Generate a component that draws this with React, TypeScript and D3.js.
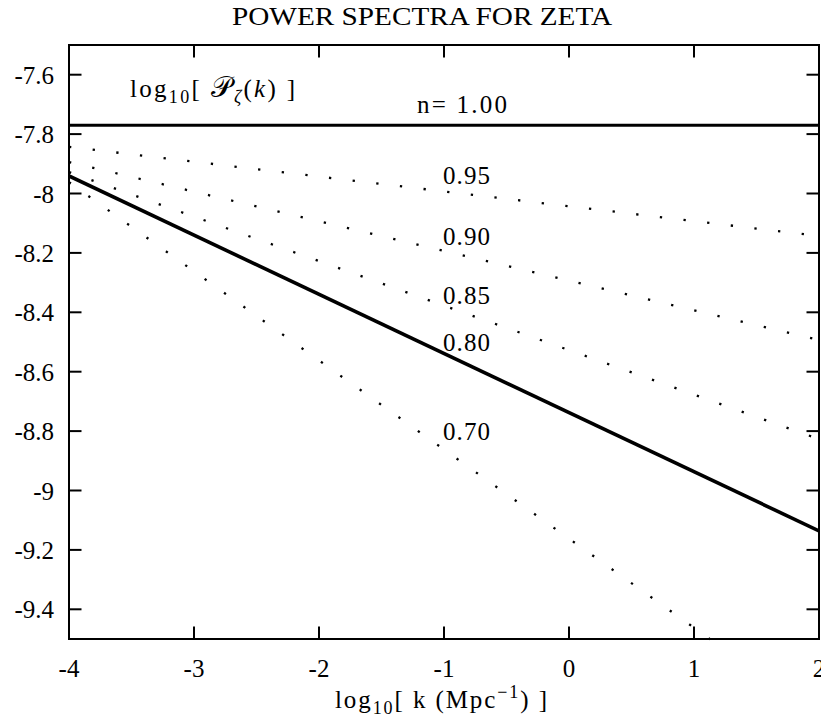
import React from 'react';
import * as d3 from 'd3';

// spectral index of each curve and log10 P at the two ends of the k range
const spectralIndex = [1.0, 0.95, 0.9, 0.85, 0.8, 0.7];
const logKEnds = [-4, 2];
const logPAtKMin = [-7.77, -7.843, -7.894, -7.928, -7.941, -7.962];
const logPAtKMax = [-7.77, -8.143, -8.493, -8.827, -9.136, -9.762];
const solidCurves = [1.0, 0.8];

const curveLabels = ['n= 1.00', '0.95', '0.90', '0.85', '0.80', '0.70'];
const labelLogK = [-1.216, -1.008, -1.008, -1.008, -1.008, -1.008];
const labelLogP = [-7.729, -7.968, -8.173, -8.372, -8.53, -8.83];

const xTicks = [-4, -3, -2, -1, 0, 1, 2];
const xTickLabels = ['-4', '-3', '-2', '-1', '0', '1', '2'];
const yTicks = [-7.6, -7.8, -8, -8.2, -8.4, -8.6, -8.8, -9, -9.2, -9.4];
const yTickLabels = ['-7.6', '-7.8', '-8', '-8.2', '-8.4', '-8.6', '-8.8', '-9', '-9.2', '-9.4'];

const W = 821;
const H = 714;
const left = 69, right = 819, top = 45, bottom = 639;
const font = '"Liberation Serif", "DejaVu Serif", serif';

export default function App() {
  const x = d3.scaleLinear().domain([-4, 2]).range([left, right]);
  const y = d3.scaleLinear().domain([-9.5, -7.5]).range([bottom, top]);
  const line = d3
    .line<[number, number]>()
    .x(d => x(d[0]))
    .y(d => y(d[1]));

  const tick = 12.5;

  return (
    <div>
      <style>{'body{margin:0}'}</style>
      <svg width={W} height={H} style={{ display: 'block', background: '#fff' }} fontFamily={font}>
        <defs>
          <clipPath id="plot">
            <rect x={left} y={top - 2} width={right - left} height={bottom - top + 4} />
          </clipPath>
        </defs>

        <text x={422} y={25} fontSize={25} textAnchor="middle" textLength={380} lengthAdjust="spacingAndGlyphs">
          POWER SPECTRA FOR ZETA
        </text>

        <g clipPath="url(#plot)">
          {spectralIndex.map((n, i) => {
            const solid = solidCurves.includes(n);
            const d = line([
              [logKEnds[0], logPAtKMin[i]],
              [logKEnds[1], logPAtKMax[i]],
            ]);
            return (
              <path
                key={n}
                d={d || ''}
                fill="none"
                stroke="#000"
                strokeWidth={solid ? (n === 1 ? 3 : 3.6) : 2.3}
                strokeDasharray={solid ? undefined : '2.3 21.5'}
              />
            );
          })}
        </g>

        {/* frame and mirrored ticks */}
        <rect x={left} y={top} width={right - left} height={bottom - top} fill="none" stroke="#000" strokeWidth={2} />
        {xTicks.map(t => (
          <g key={'x' + t} stroke="#000" strokeWidth={2}>
            <line x1={x(t)} x2={x(t)} y1={bottom} y2={bottom - tick} />
            <line x1={x(t)} x2={x(t)} y1={top} y2={top + tick} />
          </g>
        ))}
        {yTicks.map(t => (
          <g key={'y' + t} stroke="#000" strokeWidth={2}>
            <line x1={left} x2={left + tick} y1={y(t)} y2={y(t)} />
            <line x1={right} x2={right - tick} y1={y(t)} y2={y(t)} />
          </g>
        ))}

        {xTicks.map((t, i) => (
          <text key={'xl' + t} x={x(t)} y={677} fontSize={25} textAnchor="middle">
            {xTickLabels[i]}
          </text>
        ))}
        {yTicks.map((t, i) => (
          <text key={'yl' + t} x={54} y={y(t) + 9} fontSize={25} textAnchor="end">
            {yTickLabels[i]}
          </text>
        ))}

        {curveLabels.map((s, i) => (
          <text
            key={s}
            x={x(labelLogK[i])}
            y={y(labelLogP[i])}
            fontSize={25}
            textLength={i === 0 ? 90 : 47}
            lengthAdjust="spacing"
          >
            {s}
          </text>
        ))}

        {/* y quantity, written inside the frame */}
        <text x={x(-3.512)} y={y(-7.675)} fontSize={25} textLength={165} lengthAdjust="spacing">
          log
          <tspan fontSize={18} dy={6}>10</tspan>
          <tspan dy={-6}>[ </tspan>
          <tspan fontSize={29} fontFamily='"DejaVu Serif", serif'>𝒫</tspan>
          <tspan fontStyle="italic" fontSize={18} dy={6}>ζ</tspan>
          <tspan dy={-6}>(</tspan>
          <tspan fontStyle="italic">k</tspan>
          <tspan>) ]</tspan>
        </text>

        <text x={441} y={708} fontSize={25} textAnchor="middle" textLength={212} lengthAdjust="spacing">
          log
          <tspan fontSize={18} dy={6}>10</tspan>
          <tspan dy={-6}>[ k (Mpc</tspan>
          <tspan fontSize={18} dy={-10}>−1</tspan>
          <tspan dy={10}>) ]</tspan>
        </text>
      </svg>
    </div>
  );
}
